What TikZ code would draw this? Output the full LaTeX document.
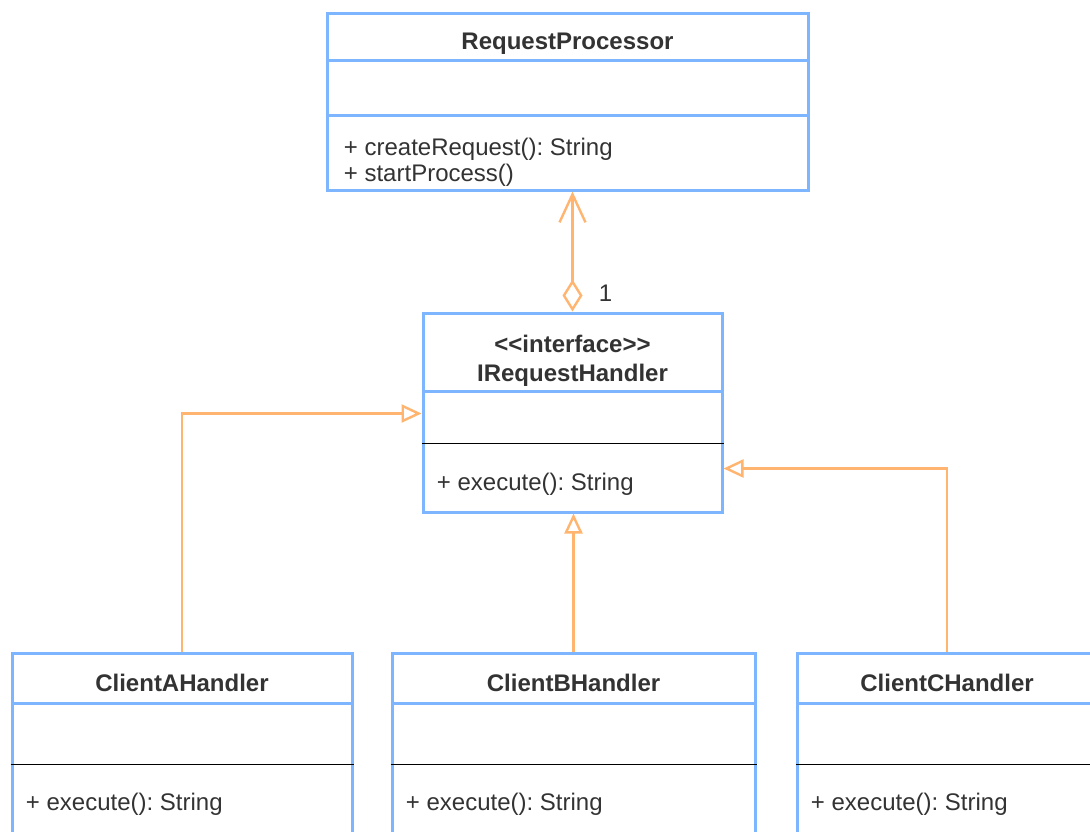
\documentclass[tikz,border=0pt]{standalone}
\usepackage{fontspec}
\setmainfont{Liberation Sans}
\frenchspacing
\usetikzlibrary{arrows.meta,calc,fit,positioning}
\definecolor{BoxClr}{rgb}{0.49,0.71,1}
\definecolor{LinkClr}{rgb}{1,0.71,0.44}
\definecolor{TxtClr}{rgb}{0.2,0.2,0.2}

\begin{document}
\begin{tikzpicture}[x=0.5pt,y=-0.5pt,
  classbox/.style={draw=BoxClr,line width=1.5pt,inner sep=0pt,fit={#1}},
  sep/.style={draw=BoxClr,line width=1.5pt},
  rule/.style={draw=black,line width=0.8pt},
  title/.style={font=\fontsize{12}{14.5}\selectfont\bfseries,text=TxtClr,inner sep=0pt,align=center},
  member/.style={font=\fontsize{12}{13}\selectfont,text=TxtClr,inner sep=0pt,anchor=west,align=left},
  link/.style={draw=LinkClr,line width=1.2pt},
  inherit/.style={link,-{Triangle[open,length=10pt,width=9pt]}}]

\clip (0,0) rectangle (1090,831);
\fill[white] (0,0) rectangle (1090,831);

% classes
\node[classbox={(327,13) (808,190)}] (proc) {};
\node[classbox={(423,313) (722,512)}] (ifc) {};
\foreach \n/\l/\r in {cA/12/352,cB/392/755,cC/797/1097}
  \node[classbox={(\l,653) (\r,850)}] (\n) {};

% compartments
\draw[sep] ($(proc.north west)+(0,49)$) -- ($(proc.north east)+(0,49)$);
\draw[sep] ($(proc.north west)+(0,104)$) -- ($(proc.north east)+(0,104)$);
\draw[sep] ($(ifc.north west)+(0,80)$) -- ($(ifc.north east)+(0,80)$);
\draw[rule] ($(ifc.north west)+(0,132)$) -- ($(ifc.north east)+(0,132)$);
\foreach \n in {cA,cB,cC}{
  \draw[sep] ($(\n.north west)+(0,52)$) -- ($(\n.north east)+(0,52)$);
  \draw[rule] ($(\n.north west)+(0,113)$) -- ($(\n.north east)+(0,113)$);
}

% texts
\node[title] (procT) at ($(proc.north)+(0,32)$) {RequestProcessor};
\node[member] (procM) at ($(proc.north west)+(18,151)$) {+ createRequest(): String\\+ startProcess()};
\node[title] (ifcT) at ($(ifc.north)+(0,49)$) {<\kern0pt<interface>\kern0pt>\\IRequestHandler};
\node[member] (ifcM) at ($(ifc.north west)+(15,173)$) {+ execute(): String};
\foreach \n/\s in {cA/A,cB/B,cC/C}{
  \node[title] (\n T) at ($(\n.north)+(0,31)$) {Client\s Handler};
  \node[member] (\n M) at ($(\n.north west)+(15,153)$) {+ execute(): String};
}

% connectors
\draw[link,{Diamond[open,length=16pt,width=10pt]}-{Straight Barb[length=14pt,width=13pt]}] (ifc.north) -- (ifc.north |- proc.south);
\node[member] (mult) at ($(ifc.north)+(26,-18)$) {1};

\coordinate (ifcL) at ($(ifc.north west)+(0,102)$);
\coordinate (ifcR) at ($(ifc.north east)+(0,157)$);
\draw[inherit] (cA.north) |- (ifcL);
\draw[inherit] (cB.north) -- (cB.north |- ifc.south);
\draw[inherit] (cC.north) |- (ifcR);

\end{tikzpicture}
\end{document}
